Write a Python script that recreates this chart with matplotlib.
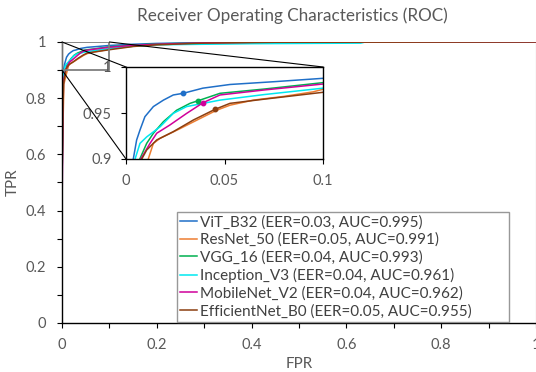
import matplotlib

matplotlib.use("Agg")
import matplotlib.pyplot as plt
from matplotlib.patches import Rectangle, ConnectionPatch
from matplotlib.ticker import FuncFormatter, MultipleLocator

plt.rcParams["font.family"] = ["Lato", "DejaVu Sans"]

# ROC curves (FPR, TPR)
vit_fpr = [0, 0, 0.002, 0.0037, 0.0054, 0.0071, 0.0096, 0.0139, 0.019, 0.024, 0.029, 0.039, 0.0528, 0.075, 0.1, 0.15, 0.2, 0.3, 0.45, 1.0]
vit_tpr = [0, 0.6, 0.86, 0.9, 0.9207, 0.9315, 0.946, 0.957, 0.964, 0.9696, 0.9714, 0.977, 0.981, 0.984, 0.9877, 0.992, 0.995, 0.998, 1.0, 1.0]

resnet_fpr = [0, 0, 0.004, 0.0113, 0.0139, 0.0173, 0.0274, 0.0376, 0.046, 0.0528, 0.0646, 0.08, 0.095, 0.1, 0.15, 0.2, 0.3, 0.45, 1.0]
resnet_tpr = [0, 0.55, 0.85, 0.9, 0.917, 0.9225, 0.933, 0.944, 0.953, 0.9585, 0.964, 0.968, 0.973, 0.9758, 0.985, 0.99, 0.996, 0.999, 1.0]

vgg_fpr = [0, 0, 0.003, 0.007, 0.0105, 0.0139, 0.019, 0.0257, 0.0325, 0.0367, 0.0477, 0.07, 0.1, 0.15, 0.2, 0.3, 0.45, 1.0]
vgg_tpr = [0, 0.5, 0.86, 0.9, 0.917, 0.928, 0.9406, 0.953, 0.9605, 0.9634, 0.9714, 0.976, 0.983, 0.989, 0.993, 0.997, 1.0, 1.0]

incep_fpr = [0, 0, 0.002, 0.0046, 0.0071, 0.0105, 0.0173, 0.024, 0.0308, 0.0392, 0.0477, 0.07, 0.1, 0.15, 0.2, 0.4, 0.63, 0.64, 1.0]
incep_tpr = [0, 0.5, 0.86, 0.9, 0.917, 0.924, 0.935, 0.9496, 0.957, 0.9605, 0.964, 0.970, 0.977, 0.985, 0.99, 0.994, 0.996, 1.0, 1.0]

mobile_fpr = [0, 0, 0.003, 0.0075, 0.0122, 0.0156, 0.0223, 0.0308, 0.0392, 0.0477, 0.07, 0.1, 0.15, 0.2, 0.3, 0.45, 1.0]
mobile_tpr = [0, 0.4, 0.86, 0.9, 0.917, 0.928, 0.937, 0.9496, 0.9613, 0.9696, 0.975, 0.9815, 0.988, 0.992, 0.997, 1.0, 1.0]

eff_fpr = [0, 0, 0.003, 0.008, 0.0105, 0.0156, 0.024, 0.0342, 0.0452, 0.0528, 0.07, 0.1, 0.15, 0.2, 0.3, 0.45, 1.0]
eff_tpr = [0, 0.5, 0.85, 0.9, 0.9098, 0.9207, 0.9297, 0.9424, 0.954, 0.9605, 0.965, 0.9725, 0.984, 0.99, 0.996, 0.999, 1.0]

labels = [
    "ViT_B32 (EER=0.03, AUC=0.995)",
    "ResNet_50 (EER=0.05, AUC=0.991)",
    "VGG_16 (EER=0.04, AUC=0.993)",
    "Inception_V3 (EER=0.04, AUC=0.961)",
    "MobileNet_V2 (EER=0.04, AUC=0.962)",
    "EfficientNet_B0 (EER=0.05, AUC=0.955)",
]
colors = ["#1F6FC8", "#ED7D31", "#00B050", "#00E8F0", "#D0009A", "#8B3E10"]
curves = [
    (vit_fpr, vit_tpr),
    (resnet_fpr, resnet_tpr),
    (vgg_fpr, vgg_tpr),
    (incep_fpr, incep_tpr),
    (mobile_fpr, mobile_tpr),
    (eff_fpr, eff_tpr),
]

# EER markers visible in the zoomed view (curve index, FPR, TPR)
eer_idx = [0, 2, 4, 5]
eer_fpr = [0.029, 0.0367, 0.0392, 0.0452]
eer_tpr = [0.9714, 0.9634, 0.9613, 0.954]

grey = "#595959"

fig = plt.figure(figsize=(5.36, 3.72), dpi=100)
ax = fig.add_axes([62 / 536, 1 - 323 / 372, 474 / 536, 281 / 372])

for (fx, ty), c, lab in zip(curves, colors, labels):
    ax.plot(fx, ty, color=c, lw=1.1, label=lab, solid_joinstyle="round")

ax.set_xlim(0, 1)
ax.set_ylim(0, 1)
fmt = FuncFormatter(lambda v, _: f"{v:g}")
ax.xaxis.set_major_locator(MultipleLocator(0.2))
ax.xaxis.set_minor_locator(MultipleLocator(0.1))
ax.yaxis.set_major_locator(MultipleLocator(0.2))
ax.yaxis.set_minor_locator(MultipleLocator(0.1))
ax.xaxis.set_major_formatter(fmt)
ax.yaxis.set_major_formatter(fmt)
ax.tick_params(which="both", direction="out", length=3.5, width=0.8, colors="black",
               labelcolor=grey, labelsize=10.5)
ax.tick_params(axis="x", pad=7)
ax.tick_params(axis="y", pad=8)
ax.spines["top"].set_visible(False)
ax.spines["right"].set_color("#A0A0A0")
ax.spines["left"].set_linewidth(1.0)
ax.spines["bottom"].set_linewidth(1.0)
ax.set_xlabel("FPR", color=grey, fontsize=11, labelpad=4)
ax.set_ylabel("TPR", color=grey, fontsize=11, labelpad=4)
fig.text(0.546, 1 - 16 / 372, "Receiver Operating Characteristics (ROC)", ha="center", va="center",
         color=grey, fontsize=12.3)

# zoom rectangle on main axes
ax.add_patch(Rectangle((0, 0.9), 0.1, 0.1, fill=False, edgecolor="#7F7F7F", lw=1.3, zorder=5))

leg = ax.legend(loc="lower left", bbox_to_anchor=(115 / 474, 0.005, 332 / 474, 126 / 281), mode="expand",
                fontsize=11, frameon=True, fancybox=False, handlelength=1.1, handletextpad=0.2,
                borderaxespad=0, labelspacing=0.22, borderpad=0.2)
leg.get_frame().set_edgecolor("#7F7F7F")
leg.get_frame().set_linewidth(1.0)
for t in leg.get_texts():
    t.set_color("#404040")

# inset
axin = fig.add_axes([126 / 536, 1 - 159 / 372, 197 / 536, 92 / 372])
for (fx, ty), c in zip(curves, colors):
    axin.plot(fx, ty, color=c, lw=1.1)
for i, fx, ty in zip(eer_idx, eer_fpr, eer_tpr):
    axin.plot([fx], [ty], "o", color=colors[i], ms=3.2)
axin.set_xlim(0, 0.1)
axin.set_ylim(0.9, 1)
axin.set_xticks([0, 0.05, 0.1])
axin.set_yticks([0.9, 0.95, 1])
axin.xaxis.set_major_formatter(fmt)
axin.yaxis.set_major_formatter(fmt)
axin.tick_params(direction="out", length=3.5, width=0.8, labelcolor=grey, labelsize=10.5, pad=7)
for s in axin.spines.values():
    s.set_linewidth(1.0)

# connector lines from the zoom box to the inset
for (xa, ya), (xb, yb) in [((0, 1), (0, 1)), ((0.1, 1), (1, 1)), ((0, 0.9), (0, 0))]:
    con = ConnectionPatch(xyA=(xa, ya), coordsA=ax.transData, xyB=(xb, yb), coordsB=axin.transAxes,
                          color="black", lw=0.8, zorder=6)
    fig.add_artist(con)

fig.savefig("out.png", dpi=100)
